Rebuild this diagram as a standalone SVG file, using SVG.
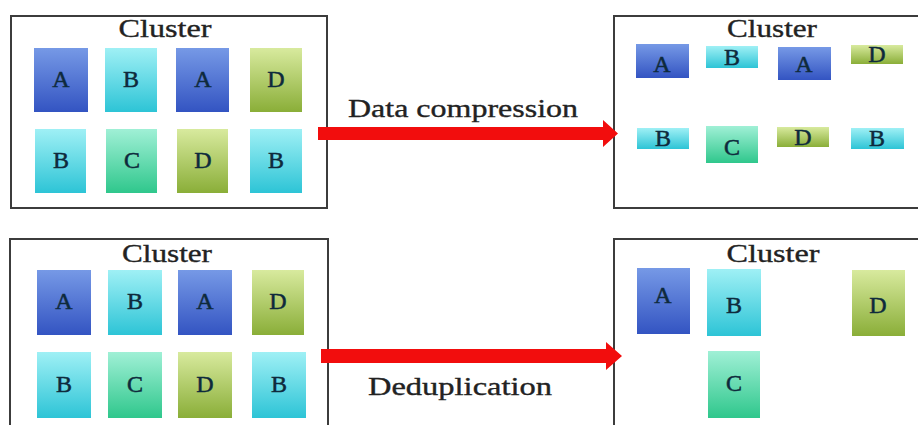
<svg xmlns="http://www.w3.org/2000/svg" width="918" height="425" viewBox="0 0 918 425">
<defs>
<linearGradient id="gA" x1="0" y1="0" x2="0" y2="1"><stop offset="0" stop-color="#7699e6"/><stop offset="1" stop-color="#3354c2"/></linearGradient>
<linearGradient id="gB" x1="0" y1="0" x2="0" y2="1"><stop offset="0" stop-color="#9ff0f5"/><stop offset="1" stop-color="#2dc4d6"/></linearGradient>
<linearGradient id="gC" x1="0" y1="0" x2="0" y2="1"><stop offset="0" stop-color="#a0f0d6"/><stop offset="1" stop-color="#2fc78c"/></linearGradient>
<linearGradient id="gD" x1="0" y1="0" x2="0" y2="1"><stop offset="0" stop-color="#d8ea9e"/><stop offset="1" stop-color="#8aae38"/></linearGradient>
</defs>
<style>
.box{fill:#fff;stroke:#3c3c3c;stroke-width:2}
.title{font-family:"Liberation Serif","Times New Roman",serif;font-size:25px;fill:#222;stroke:#222;stroke-width:0.35;text-anchor:middle}
.lbl{font-family:"Liberation Serif","Times New Roman",serif;font-size:25px;fill:#222;stroke:#222;stroke-width:0.35}
.let{font-family:"Liberation Serif","Times New Roman",serif;font-size:24px;fill:#0e2a3c;stroke:#0e2a3c;stroke-width:0.5;text-anchor:middle;dominant-baseline:central}
.a{fill:url(#gA)}.b{fill:url(#gB)}.c{fill:url(#gC)}.d{fill:url(#gD)}
.arr{fill:#f20d0d}
</style>
<rect width="918" height="425" fill="#fff"/>

<g id="cluster-top-left">
<rect class="box" x="11" y="16" width="316" height="192"/>
<text class="title" x="165" y="37" textLength="93" lengthAdjust="spacingAndGlyphs">Cluster</text>
<rect class="a" x="34" y="48" width="54" height="64"/><text class="let" x="61" y="79">A</text>
<rect class="b" x="105" y="48" width="52" height="64"/><text class="let" x="131" y="79">B</text>
<rect class="a" x="176" y="48" width="53" height="64"/><text class="let" x="203" y="79">A</text>
<rect class="d" x="250" y="48" width="52" height="64"/><text class="let" x="276" y="79">D</text>
<rect class="b" x="35" y="129" width="51" height="64"/><text class="let" x="61" y="160">B</text>
<rect class="c" x="106" y="129" width="51" height="64"/><text class="let" x="132" y="160">C</text>
<rect class="d" x="177" y="129" width="51" height="64"/><text class="let" x="203" y="160">D</text>
<rect class="b" x="250" y="129" width="52" height="64"/><text class="let" x="276" y="160">B</text>
</g>

<g id="cluster-top-right">
<rect class="box" x="614" y="16" width="312" height="192"/>
<text class="title" x="772" y="37" textLength="90" lengthAdjust="spacingAndGlyphs">Cluster</text>
<rect class="a" x="636" y="44" width="53" height="34"/><text class="let" x="662" y="64">A</text>
<rect class="b" x="706" y="46" width="52" height="22"/><text class="let" x="732" y="57">B</text>
<rect class="a" x="778" y="47" width="53" height="33"/><text class="let" x="804" y="64">A</text>
<rect class="d" x="851" y="45" width="52" height="19"/><text class="let" x="877" y="54">D</text>
<rect class="b" x="637" y="128" width="52" height="21"/><text class="let" x="663" y="138">B</text>
<rect class="c" x="706" y="126" width="52" height="37"/><text class="let" x="732" y="147">C</text>
<rect class="d" x="777" y="127" width="52" height="20"/><text class="let" x="803" y="137">D</text>
<rect class="b" x="851" y="128" width="53" height="21"/><text class="let" x="877" y="138">B</text>
</g>

<g id="cluster-bottom-left">
<rect class="box" x="10" y="239" width="318" height="200"/>
<text class="title" x="167" y="262" textLength="90" lengthAdjust="spacingAndGlyphs">Cluster</text>
<rect class="a" x="37" y="270" width="54" height="65"/><text class="let" x="64" y="301">A</text>
<rect class="b" x="108" y="270" width="54" height="65"/><text class="let" x="135" y="301">B</text>
<rect class="a" x="178" y="270" width="54" height="65"/><text class="let" x="205" y="301">A</text>
<rect class="d" x="252" y="270" width="52" height="65"/><text class="let" x="278" y="301">D</text>
<rect class="b" x="37" y="352" width="54" height="66"/><text class="let" x="64" y="384">B</text>
<rect class="c" x="108" y="352" width="54" height="66"/><text class="let" x="135" y="384">C</text>
<rect class="d" x="178" y="352" width="54" height="66"/><text class="let" x="205" y="384">D</text>
<rect class="b" x="252" y="352" width="54" height="66"/><text class="let" x="279" y="384">B</text>
</g>

<g id="cluster-bottom-right">
<rect class="box" x="614" y="239" width="312" height="200"/>
<text class="title" x="773" y="262" textLength="93" lengthAdjust="spacingAndGlyphs">Cluster</text>
<rect class="a" x="637" y="268" width="53" height="66"/><text class="let" x="663" y="295">A</text>
<rect class="b" x="707" y="269" width="54" height="67"/><text class="let" x="734" y="305">B</text>
<rect class="d" x="852" y="270" width="53" height="66"/><text class="let" x="878" y="305">D</text>
<rect class="c" x="708" y="351" width="52" height="67"/><text class="let" x="734" y="383">C</text>
</g>

<g id="connectors">
<g id="edge-compression">
<polygon class="arr" points="318,127 603,127 603,120 618,133.5 603,147 603,140 318,140"/>
<text class="lbl" x="348" y="117" textLength="230" lengthAdjust="spacingAndGlyphs">Data compression</text>
</g>
<g id="edge-dedup">
<polygon class="arr" points="321,349 606,349 606,342 622,356 606,370 606,363 321,363"/>
<text class="lbl" x="368" y="395" textLength="184" lengthAdjust="spacingAndGlyphs">Deduplication</text>
</g>
</g>
</svg>
